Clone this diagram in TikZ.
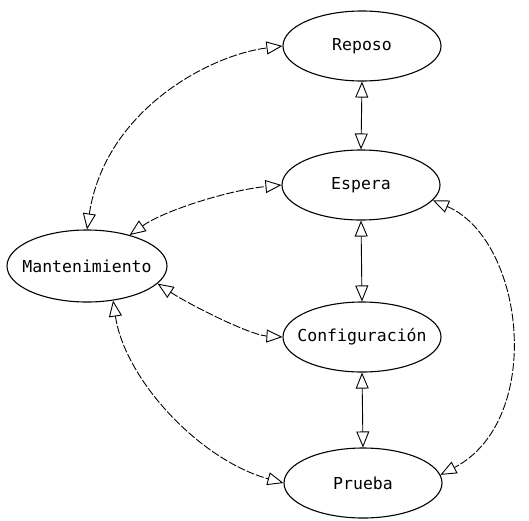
\documentclass[tikz,border=0pt]{standalone}
\usepackage{fontspec}
\newfontfamily\lblfont{DejaVu Sans Mono}
\usetikzlibrary{arrows.meta,shapes.geometric}
\newcommand{\zbox}[1]{\makebox[0pt]{#1}}
\begin{document}
\begin{tikzpicture}[x=1pt,y=-1pt,
  state/.style={ellipse,draw,line width=1.1pt,minimum width=158pt,minimum height=70pt,inner sep=0pt,font=\lblfont\fontsize{16.5}{19}\selectfont},
  tip/.tip={Triangle[open,length=16pt,width=13pt,line width=0.9pt]},
  link/.style={tip-tip,line width=0.9pt},
  curvy/.style={link,dash pattern=on 8pt off 2pt}]
\useasboundingbox (0,0) rectangle (529,520);
\node[state] (rep) at (362,46) {\zbox{Reposo}};
\node[state] (esp) at (361,185) {\zbox{Espera}};
\node[state] (conf) at (362,337) {\zbox{Configuración}};
\node[state] (pru) at (363,483) {\zbox{Prueba}};
\node[state,minimum width=160pt,minimum height=72pt] (man) at (87,266) {\zbox{Mantenimiento}};
\draw[link] (rep.south) -- (esp.north);
\draw[link] (esp.south) -- (conf.north);
\draw[link] (conf.south) -- (pru.north);
\draw[curvy] (man.north) .. controls (105,110) and (210,55) .. (rep.west);
\draw[curvy] (man.36) .. controls (165,210) and (230,190) .. (esp.west);
\draw[curvy] (man.-14) .. controls (190,305) and (250,335) .. (conf.west);
\draw[curvy] (man.-53) .. controls (125,380) and (200,460) .. (pru.west);
\draw[curvy] (esp.-12) .. controls (525,240) and (545,420) .. (pru.6);
\end{tikzpicture}
\end{document}
